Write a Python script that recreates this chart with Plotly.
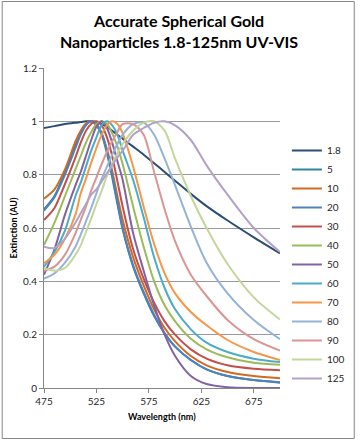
import plotly.graph_objects as go

# Wavelength grid (nm)
WAVELENGTH = [475, 485, 495, 505, 510, 515, 520, 525, 530, 535, 540, 545, 550,
              560, 570, 580, 590, 600, 615, 630, 650, 675, 700]

SIZES = ["1.8", "5", "10", "20", "30", "40", "50", "60", "70", "80", "90", "100", "125"]

ext_1_8 = [0.975, 0.982, 0.99, 0.995, 0.997, 1.0, 1.0, 0.998, 0.99, 0.98, 0.965, 0.95, 0.935,
           0.905, 0.875, 0.843, 0.81, 0.777, 0.728, 0.682, 0.628, 0.565, 0.505]
ext_5 = [0.67, 0.72, 0.81, 0.91, 0.955, 0.99, 1.0, 0.985, 0.95, 0.88, 0.79, 0.69, 0.595,
         0.455, 0.355, 0.27, 0.205, 0.155, 0.105, 0.07, 0.045, 0.03, 0.022]
ext_10 = [0.71, 0.745, 0.82, 0.925, 0.965, 0.992, 1.0, 0.985, 0.955, 0.895, 0.815, 0.72, 0.63,
          0.49, 0.385, 0.295, 0.225, 0.175, 0.12, 0.085, 0.06, 0.045, 0.037]
ext_20 = [0.665, 0.715, 0.80, 0.90, 0.95, 0.985, 1.0, 0.99, 0.955, 0.89, 0.80, 0.70, 0.60,
          0.46, 0.36, 0.275, 0.205, 0.155, 0.105, 0.07, 0.045, 0.03, 0.02]
ext_30 = [0.63, 0.675, 0.765, 0.865, 0.92, 0.965, 0.99, 1.0, 0.985, 0.94, 0.87, 0.775, 0.68,
          0.52, 0.41, 0.32, 0.25, 0.20, 0.145, 0.11, 0.085, 0.072, 0.067]
ext_40 = [0.536, 0.62, 0.72, 0.82, 0.87, 0.92, 0.96, 0.99, 1.0, 0.99, 0.955, 0.905, 0.84,
          0.68, 0.53, 0.40, 0.31, 0.25, 0.185, 0.145, 0.115, 0.095, 0.087]
ext_50 = [0.425, 0.52, 0.65, 0.76, 0.81, 0.87, 0.93, 0.98, 1.0, 0.975, 0.92, 0.85, 0.78,
          0.58, 0.44, 0.31, 0.20, 0.12, 0.045, 0.015, 0.003, 0.0, 0.0]
ext_60 = [0.455, 0.51, 0.59, 0.72, 0.77, 0.83, 0.89, 0.94, 0.985, 1.0, 0.985, 0.95, 0.89,
          0.78, 0.64, 0.49, 0.375, 0.295, 0.22, 0.17, 0.135, 0.11, 0.097]
ext_70 = [0.468, 0.50, 0.56, 0.65, 0.73, 0.785, 0.845, 0.90, 0.95, 0.985, 1.0, 0.99, 0.955,
          0.83, 0.68, 0.54, 0.43, 0.355, 0.285, 0.235, 0.18, 0.135, 0.105]
ext_80 = [0.41, 0.43, 0.47, 0.53, 0.575, 0.625, 0.675, 0.73, 0.785, 0.83, 0.875, 0.915, 0.95,
          0.99, 0.995, 0.95, 0.86, 0.76, 0.605, 0.47, 0.355, 0.255, 0.183]
ext_90 = [0.44, 0.455, 0.50, 0.58, 0.63, 0.68, 0.74, 0.79, 0.84, 0.885, 0.925, 0.96, 0.99,
          0.99, 0.95, 0.81, 0.67, 0.55, 0.425, 0.345, 0.255, 0.183, 0.14]
ext_100 = [0.45, 0.44, 0.45, 0.50, 0.535, 0.585, 0.635, 0.69, 0.74, 0.795, 0.84, 0.88, 0.915,
           0.965, 0.995, 1.0, 0.965, 0.86, 0.72, 0.60, 0.465, 0.34, 0.257]
ext_125 = [0.53, 0.525, 0.56, 0.62, 0.655, 0.69, 0.725, 0.745, 0.775, 0.805, 0.835, 0.865, 0.89,
           0.95, 0.975, 0.995, 1.0, 0.985, 0.93, 0.835, 0.725, 0.6, 0.51]

SERIES = [ext_1_8, ext_5, ext_10, ext_20, ext_30, ext_40, ext_50,
          ext_60, ext_70, ext_80, ext_90, ext_100, ext_125]

COLORS = ["#2C4D75", "#31859C", "#D2691E", "#4F81BD", "#C0504D", "#9BBB59", "#8064A2",
          "#4BACC6", "#F79646", "#95B3D7", "#D99694", "#C3D69B", "#B3A2C7"]

TITLE_LINES = ["Accurate Spherical Gold", "Nanoparticles 1.8-125nm UV-VIS"]

fig = go.Figure()
for name, vals, col in zip(SIZES, SERIES, COLORS):
    fig.add_trace(go.Scatter(x=WAVELENGTH, y=vals, name=name, mode="lines",
                             line=dict(color=col, width=2, shape="spline", smoothing=0.8)))

W, H = 362, 441
L, R, T, B = 44, 78, 68, 53
pw, ph = W - L - R, H - T - B

def px2x(p):
    return (p - L) / pw

def px2y(p):
    return (H - B - p) / ph

font_family = "Lato, Open Sans, sans-serif"

annotations = [
    dict(text="<b>" + TITLE_LINES[0] + "</b>", xref="paper", yref="paper",
         x=px2x(181), y=px2y(20), showarrow=False, xanchor="center", yanchor="middle",
         font=dict(size=16, color="#000000")),
    dict(text="<b>" + TITLE_LINES[1] + "</b>", xref="paper", yref="paper",
         x=px2x(181), y=px2y(42), showarrow=False, xanchor="center", yanchor="middle",
         font=dict(size=16, color="#000000")),
    dict(text="<b>Wavelength (nm)</b>", xref="paper", yref="paper",
         x=px2x(164), y=px2y(416), showarrow=False, xanchor="center", yanchor="middle",
         font=dict(size=9, color="#000000")),
    dict(text="<b>Extinction (AU)</b>", xref="paper", yref="paper",
         x=px2x(12), y=px2y(228), showarrow=False, textangle=-90,
         xanchor="center", yanchor="middle", font=dict(size=9, color="#000000")),
]

fig.update_layout(
    width=W, height=H,
    margin=dict(l=L, r=R, t=T, b=B, pad=0),
    paper_bgcolor="white", plot_bgcolor="white",
    font=dict(family=font_family, size=10, color="#262626"),
    showlegend=True,
    legend=dict(x=px2x(291), y=px2y(136), xanchor="left", yanchor="top",
                font=dict(size=10, color="#262626"), bgcolor="rgba(0,0,0,0)",
                itemwidth=30, tracegroupgap=0),
    xaxis=dict(range=[475, 700], tick0=475, dtick=50, showgrid=False, zeroline=False,
               showline=True, linecolor="#868686", linewidth=1,
               ticks="outside", ticklen=4, tickcolor="#868686",
               tickfont=dict(size=10, color="#262626")),
    yaxis=dict(range=[0, 1.2], dtick=0.2, showgrid=True, gridcolor="#9a9a9a", gridwidth=1,
               zeroline=False, showline=True, linecolor="#868686", linewidth=1,
               ticks="outside", ticklen=4, tickcolor="#868686",
               tickfont=dict(size=10, color="#262626")),
    annotations=annotations,
    shapes=[dict(type="rect", xref="paper", yref="paper",
                 x0=px2x(1.5), x1=px2x(359.5), y0=px2y(438.5), y1=px2y(1.5),
                 line=dict(color="#868686", width=1), fillcolor="rgba(0,0,0,0)", layer="below")],
)

fig.write_html("out.html", config={"displayModeBar": False},
               post_script="document.body.style.margin='0';")
